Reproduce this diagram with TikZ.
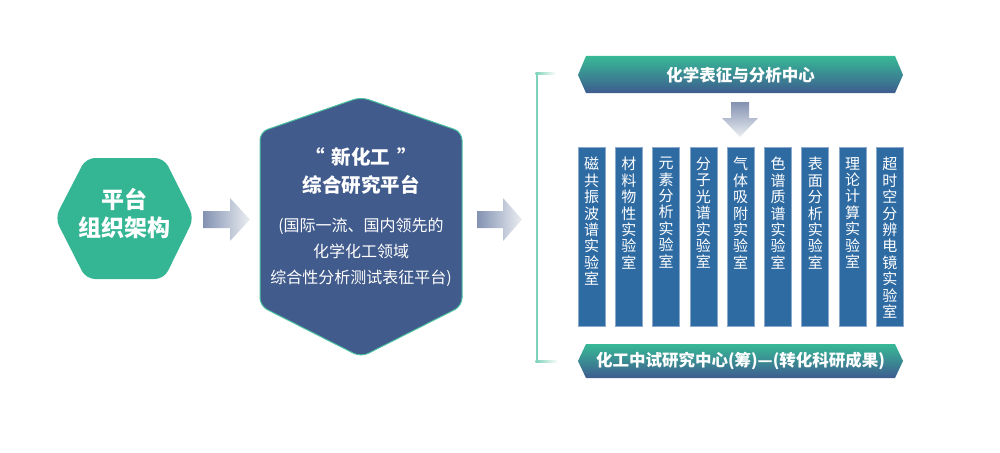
\documentclass[tikz,border=0pt]{standalone}
\usepackage{fontspec}
\setmainfont{Noto Sans CJK SC}
\usetikzlibrary{shadings}
\definecolor{hexgreen}{HTML}{34B594}
\definecolor{hexblue}{HTML}{415B8C}
\definecolor{hexedge}{HTML}{4CC3A0}
\definecolor{colblue}{HTML}{2F6BA3}
\definecolor{coledge}{HTML}{8AA9CB}
\definecolor{bantop}{HTML}{37B996}
\definecolor{banbot}{HTML}{3E5C8F}
\definecolor{arrdark}{HTML}{8392B2}
\definecolor{arrlight}{HTML}{EBEEF2}
\definecolor{brk}{HTML}{7ED2B9}
\tikzset{
  lab/.style={text=white,align=center,inner sep=0pt},
  colbox/.style={fill=colblue,draw=coledge,line width=0.8pt},
  coltext/.style={lab,font=\fontsize{15}{16.4}\selectfont,anchor=north},
  bantext/.style={lab,font=\bfseries\fontsize{16.5}{18}\selectfont},
  banner/.style={top color=bantop,bottom color=banbot},
  harrow/.style={left color=arrdark,right color=arrlight},
}
\begin{document}
\begin{tikzpicture}[x=1pt,y=-1pt]
\useasboundingbox (0,0) rectangle (1000,452);
% green hexagon
\fill[hexgreen,rounded corners=9pt] (55,218) -- (86,158) -- (164,158) -- (194,218) -- (164,279) -- (86,279) -- cycle;
\node[lab,font=\bfseries\fontsize{23}{28}\selectfont] (org) at (124.5,214) {平台\\组织架构};
% arrow 1
\shade[harrow] (203,211) -- (230,211) -- (230,198) -- (250,219.5) -- (230,241) -- (230,228) -- (203,228) -- cycle;
% big hexagon
\filldraw[fill=hexblue,draw=hexedge,line width=1pt,rounded corners=8pt] (361,97) -- (462,132) -- (462,306) -- (361,357) -- (260,306) -- (260,132) -- cycle;
\node[lab,font=\bfseries\fontsize{19.5}{28}\selectfont] (plat) at (361,171) {“\hspace{0.35em}新化工\hspace{0.35em}”\\综合研究平台};
\node[lab,font=\fontsize{16}{26}\selectfont] (platdesc) at (361,252) {(国际一流、国内领先的\\化学化工领域\\综合性分析测试表征平台)};
% arrow 2
\shade[harrow] (477,211) -- (503,211) -- (503,198) -- (522,219.5) -- (503,241) -- (503,228) -- (477,228) -- cycle;
% bracket
\fill[brk] (535.5,73) rectangle (537.5,362);
\shade[left color=brk,right color=white] (535.5,72) rectangle (556,74);
\shade[left color=brk,right color=white] (535.5,360) rectangle (558,362);
% top banner
\shade[banner] (578,75) -- (586,56) -- (895,56) -- (903,75) -- (895,93) -- (586,93) -- cycle;
\node[bantext] (center1) at (740.5,75) {化学表征与分析中心};
% down arrow
\shade[top color=arrdark,bottom color=arrlight] (731,102) -- (749,102) -- (749,118) -- (758,118) -- (740,137) -- (722,118) -- (731,118) -- cycle;
% columns
\foreach \i/\t in {0/{磁\\共\\振\\波\\谱\\实\\验\\室},
                   1/{材\\料\\物\\性\\实\\验\\室},
                   2/{元\\素\\分\\析\\实\\验\\室},
                   3/{分\\子\\光\\谱\\实\\验\\室},
                   4/{气\\体\\吸\\附\\实\\验\\室},
                   5/{色\\谱\\质\\谱\\实\\验\\室},
                   6/{表\\面\\分\\析\\实\\验\\室},
                   7/{理\\论\\计\\算\\实\\验\\室},
                   8/{超\\时\\空\\分\\辨\\电\\镜\\实\\验\\室}}{
  \pgfmathsetmacro{\xl}{578+37.3*\i}
  \filldraw[colbox] (\xl,147) rectangle ({\xl+27},326);
  \node[coltext] (lab\i) at ({\xl+13.5},157) {\t};
}
% bottom banner
\shade[banner] (578,361) -- (586,344) -- (895,344) -- (903,361) -- (895,378) -- (586,378) -- cycle;
\node[bantext] (center2) at (740.5,361) {化工中试研究中心(筹)—(转化科研成果)};
\end{tikzpicture}
\end{document}
